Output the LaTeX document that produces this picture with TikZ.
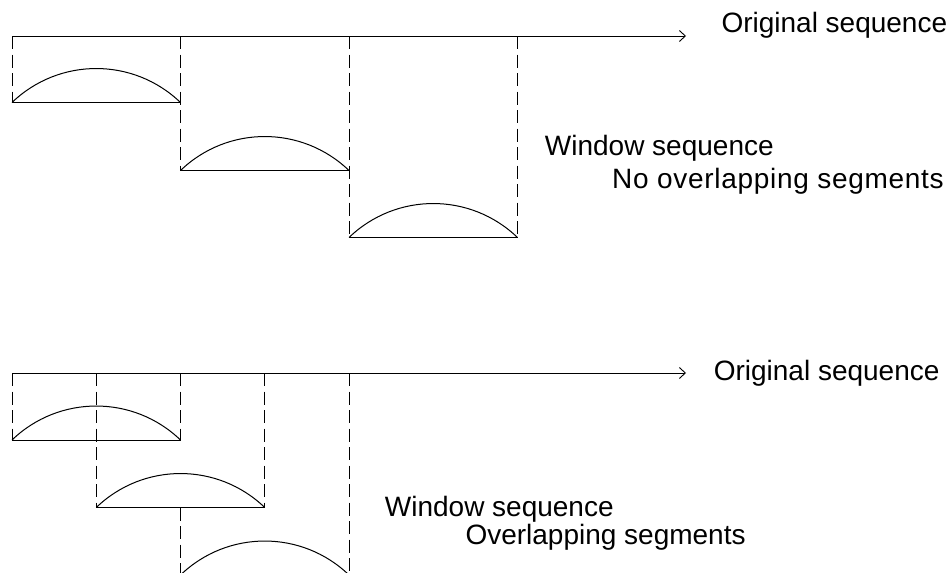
\documentclass[tikz,border=0pt]{standalone}
\usepackage{fontspec}
\setmainfont{Liberation Sans}
\usetikzlibrary{arrows.meta}
\begin{document}
\begin{tikzpicture}[x=1pt,y=-1pt,
  axis/.style={line width=1pt,-{Straight Barb[length=6pt,width=11pt,line width=0.9pt]}},
  solidline/.style={line width=1pt},
  guide/.style={line width=1pt,dash pattern=on 13pt off 5.5pt},
  hump/.style={line width=1pt},
  lbl/.style={anchor=base west,inner sep=0pt,font=\fontsize{28pt}{30pt}\selectfont}]
\clip (0,0) rectangle (951,573);
\useasboundingbox (0,0) rectangle (951,573);
% ---------- top: no overlap ----------
\coordinate (ta0) at (12,36);
\coordinate (tend) at (686,36);
\coordinate (tb1l) at (12,102.5);
\coordinate (tb1r) at (180.5,102.5);
\coordinate (tb2l) at (180.5,170.5);
\coordinate (tb2r) at (349,170.5);
\coordinate (tb3l) at (349,237.5);
\coordinate (tb3r) at (517.5,237.5);
\coordinate (tt1) at (180.5,36);
\coordinate (tt2) at (349,36);
\coordinate (tt3) at (517.5,36);
\draw[axis] (ta0) -- (tend);
\draw[guide] (ta0) -- (tb1l);
\draw[guide] (tt1) -- (tb2l);
\draw[guide] (tt2) -- (tb3l);
\draw[guide] (tt3) -- (tb3r);
\foreach \a/\b in {tb1l/tb1r,tb2l/tb2r,tb3l/tb3r}{
  \draw[solidline] (\a) -- (\b);
  \draw[hump] (\a) .. controls +(47.1,-45.3) and +(-47.1,-45.3) .. (\b);
}
\node[lbl] (o1) at (721.3,32.7) {Original sequence};
\node[lbl] (w1) at (544.7,155) {Window sequence};
\node[lbl] (n1) at (612,188.3) {\addfontfeatures{LetterSpace=2.5}No overlapping segments};
% ---------- bottom: overlap ----------
\coordinate (ba0) at (12,373);
\coordinate (bend) at (686,373);
\coordinate (bb1l) at (12,440);
\coordinate (bb1r) at (180.5,440);
\coordinate (bb2l) at (96.25,507.5);
\coordinate (bb2r) at (264.75,507.5);
\coordinate (bb3l) at (180.5,575);
\coordinate (bb3r) at (349,575);
\coordinate (bt1) at (96.25,373);
\coordinate (bt2) at (180.5,373);
\coordinate (bt3) at (264.75,373);
\coordinate (bt4) at (349,373);
\coordinate (bm3) at (180.5,507.5);
\draw[axis] (ba0) -- (bend);
\draw[guide] (ba0) -- (bb1l);
\draw[guide] (bt1) -- (bb2l);
\draw[guide] (bt2) -- (bb1r);
\draw[guide] (bm3) -- (bb3l);
\draw[guide] (bt3) -- (bb2r);
\draw[guide] (bt4) -- (bb3r);
\foreach \a/\b in {bb1l/bb1r,bb2l/bb2r,bb3l/bb3r}{
  \draw[solidline] (\a) -- (\b);
  \draw[hump] (\a) .. controls +(47.1,-45.3) and +(-47.1,-45.3) .. (\b);
}
\node[lbl] (o2) at (713.6,380) {Original sequence};
\node[lbl] (w2) at (384.7,516.7) {Window sequence};
\node[lbl] (n2) at (465.3,544.5) {Overlapping segments};
\end{tikzpicture}
\end{document}
